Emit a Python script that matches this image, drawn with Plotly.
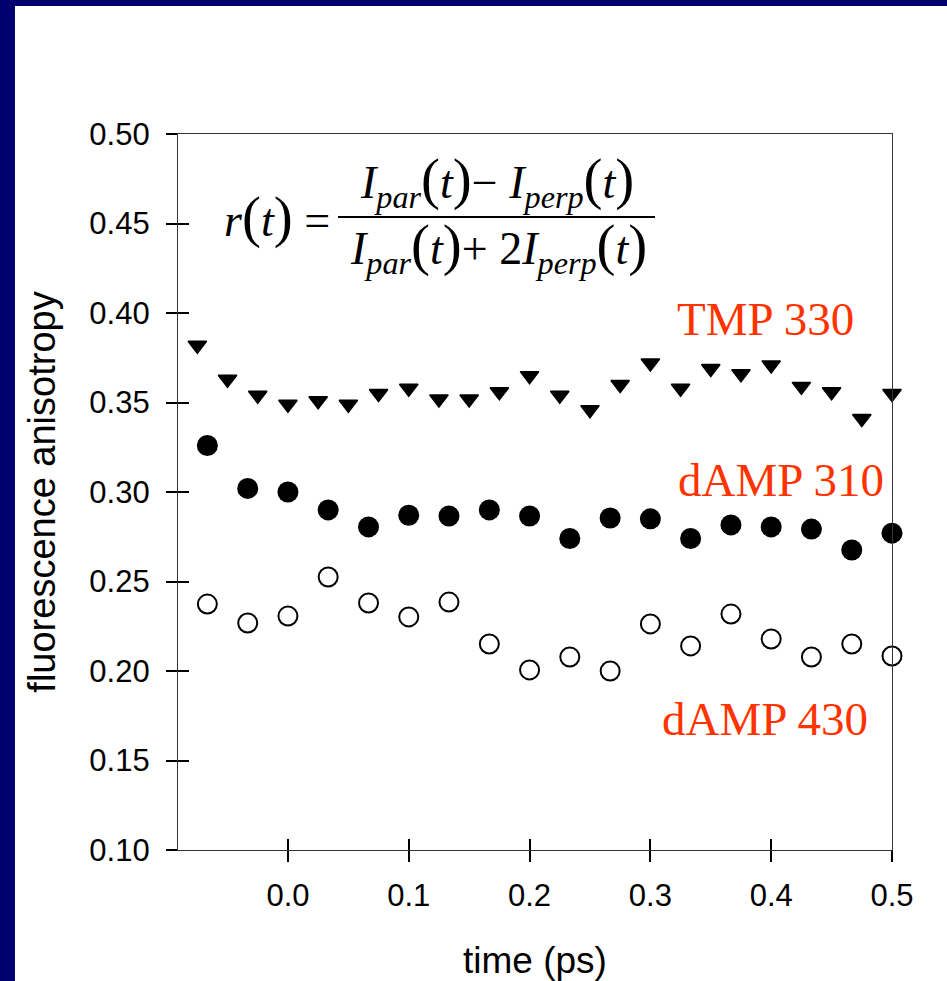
import plotly.graph_objects as go

# ---- data ----
t_tmp = [-0.075, -0.05, -0.025, 0.0, 0.025, 0.05, 0.075, 0.1, 0.125, 0.15, 0.175, 0.2,
         0.225, 0.25, 0.275, 0.3, 0.325, 0.35, 0.375, 0.4, 0.425, 0.45, 0.475, 0.5]
tmp330 = [0.382, 0.363, 0.354, 0.349, 0.351, 0.349, 0.355, 0.358, 0.352, 0.352, 0.356, 0.365,
          0.354, 0.346, 0.360, 0.372, 0.358, 0.369, 0.366, 0.371, 0.359, 0.356, 0.341, 0.355]

t_damp = [-0.0667, -0.0333, 0.0, 0.0333, 0.0667, 0.1, 0.1333, 0.1667, 0.2, 0.2333, 0.2667,
          0.3, 0.3333, 0.3667, 0.4, 0.4333, 0.4667, 0.5]
damp310 = [0.326, 0.302, 0.300, 0.290, 0.2805, 0.287, 0.2866, 0.290, 0.2866, 0.274, 0.2855,
           0.285, 0.274, 0.2816, 0.2805, 0.2793, 0.2676, 0.277]
damp430 = [0.2374, 0.2268, 0.2307, 0.2525, 0.238, 0.2302, 0.2385, 0.2151, 0.2006, 0.2078, 0.2000,
           0.2263, 0.2140, 0.2318, 0.2179, 0.2078, 0.2151, 0.2084]

x_ticks = [0.0, 0.1, 0.2, 0.3, 0.4, 0.5]
x_ticklabels = ["0.0", "0.1", "0.2", "0.3", "0.4", "0.5"]
y_ticks = [0.10, 0.15, 0.20, 0.25, 0.30, 0.35, 0.40, 0.45, 0.50]
y_ticklabels = ["0.10", "0.15", "0.20", "0.25", "0.30", "0.35", "0.40", "0.45", "0.50"]

series_labels = ["TMP 330", "dAMP 310", "dAMP 430"]
x_title = "time (ps)"
y_title = "fluorescence anisotropy"

# ---- layout geometry (pixels) ----
W, H = 947, 981
L, R, T, B = 178, 892, 134, 850  # plot area edges in px
X_RANGE = [-0.091, 0.5]
Y_RANGE = [0.10, 0.50]
NAVY = "#00006e"
RED = "#ff3300"


def px(x):
    return (x - L) / (R - L)


def py(y):
    return (B - y) / (B - T)


fig = go.Figure()

fig.add_trace(go.Scatter(x=t_tmp, y=tmp330, mode="markers", name=series_labels[0],
                         marker=dict(symbol="triangle-down", size=16, color="black",
                                     line=dict(color="black", width=1.5)),
                         cliponaxis=False))
fig.add_trace(go.Scatter(x=t_damp, y=damp310, mode="markers", name=series_labels[1],
                         marker=dict(symbol="circle", size=21, color="black",
                                     line=dict(width=0)),
                         cliponaxis=False))
fig.add_trace(go.Scatter(x=t_damp, y=damp430, mode="markers", name=series_labels[2],
                         marker=dict(symbol="circle", size=19, color="white",
                                     line=dict(color="black", width=2)),
                         cliponaxis=False))
# helper trace on overlay axes (for inward half of the crossing ticks)
fig.add_trace(go.Scatter(x=[X_RANGE[0]], y=[Y_RANGE[0]], xaxis="x2", yaxis="y2",
                         mode="markers", marker=dict(opacity=0), hoverinfo="skip",
                         showlegend=False))

axis_font = dict(family="Liberation Sans, Arial, sans-serif", size=31, color="black")
xtitle_font = dict(family="Liberation Sans, Arial, sans-serif", size=37, color="black")
ytitle_font = dict(family="Liberation Sans, Arial, sans-serif", size=38, color="black")

fig.update_layout(
    width=W, height=H,
    margin=dict(l=L, r=W - R, t=T, b=H - B, pad=0, autoexpand=False),
    paper_bgcolor=NAVY,
    plot_bgcolor="white",
    showlegend=False,
    xaxis=dict(range=X_RANGE, tickvals=x_ticks, ticktext=x_ticklabels, automargin=False,
               ticks="outside", ticklen=11, tickwidth=1.5, tickcolor="black",
               showline=True, linecolor="#333333", linewidth=1.2, mirror=True,
               showgrid=False, zeroline=False, tickfont=axis_font,
               ticklabelstandoff=7,
               title=dict(text=x_title, font=xtitle_font, standoff=40)),
    yaxis=dict(range=Y_RANGE, tickvals=y_ticks, ticktext=y_ticklabels, automargin=False,
               ticks="outside", ticklen=11, tickwidth=1.5, tickcolor="black",
               showline=True, linecolor="#333333", linewidth=1.2, mirror=True,
               showgrid=False, zeroline=False, tickfont=axis_font,
               ticklabelstandoff=10,
               title=dict(text=y_title, font=ytitle_font, standoff=22)),
    xaxis2=dict(range=X_RANGE, overlaying="x", matches="x", tickvals=x_ticks, automargin=False,
                ticks="inside", ticklen=11, tickwidth=1.5, tickcolor="black",
                showticklabels=False, showline=False, showgrid=False, zeroline=False),
    yaxis2=dict(range=Y_RANGE, overlaying="y", matches="y", tickvals=y_ticks, automargin=False,
                ticks="inside", ticklen=11, tickwidth=1.5, tickcolor="black",
                showticklabels=False, showline=False, showgrid=False, zeroline=False),
)

# white slide panel over the navy background
fig.add_shape(type="rect", xref="paper", yref="paper", layer="below",
              x0=px(15), x1=px(W + 20), y0=py(H + 20), y1=py(6),
              fillcolor="white", line=dict(width=0))

# series labels
label_font = dict(family="Liberation Serif, Times New Roman, serif", size=47, color=RED)
label_pos = [(0.395, 0.3966), (0.408, 0.3067), (0.395, 0.1732)]
for txt, (lx, ly) in zip(series_labels, label_pos):
    fig.add_annotation(x=lx, y=ly, xref="x", yref="y", text=txt, showarrow=False,
                       font=label_font, xanchor="center", yanchor="middle")

# formula
fml_font = dict(family="Liberation Serif, Times New Roman, serif", size=46, color="black")
P = "<span style='font-size:57px'>%s</span>"
lp, rp = P % "(", P % ")"
lhs = "<i>r</i>" + lp + "<i>t</i>" + rp + " ="
num = ("<i>I</i><sub><i>par</i></sub>" + lp + "<i>t</i>" + rp + "\u2212 <i>I</i><sub><i>perp</i></sub>"
       + lp + "<i>t</i>" + rp)
den = ("<i>I</i><sub><i>par</i></sub>" + lp + "<i>t</i>" + rp + "+ 2<i>I</i><sub><i>perp</i></sub>"
       + lp + "<i>t</i>" + rp)
fig.add_annotation(x=px(277), y=py(217), xref="paper", yref="paper", text=lhs,
                   showarrow=False, font=fml_font, xanchor="center", yanchor="middle")
fig.add_annotation(x=px(497), y=py(181), xref="paper", yref="paper", text=num,
                   showarrow=False, font=fml_font, xanchor="center", yanchor="middle")
fig.add_annotation(x=px(498), y=py(247), xref="paper", yref="paper", text=den,
                   showarrow=False, font=fml_font, xanchor="center", yanchor="middle")
fig.add_shape(type="line", xref="paper", yref="paper", x0=px(338), x1=px(655),
              y0=py(217), y1=py(217), line=dict(color="black", width=2))

fig.write_html(
    "out.html",
    config={"displayModeBar": False},
    post_script=("document.body.style.margin='0';"
                 "document.documentElement.style.overflow='hidden';"
                 "document.body.style.overflow='hidden';"),
)
